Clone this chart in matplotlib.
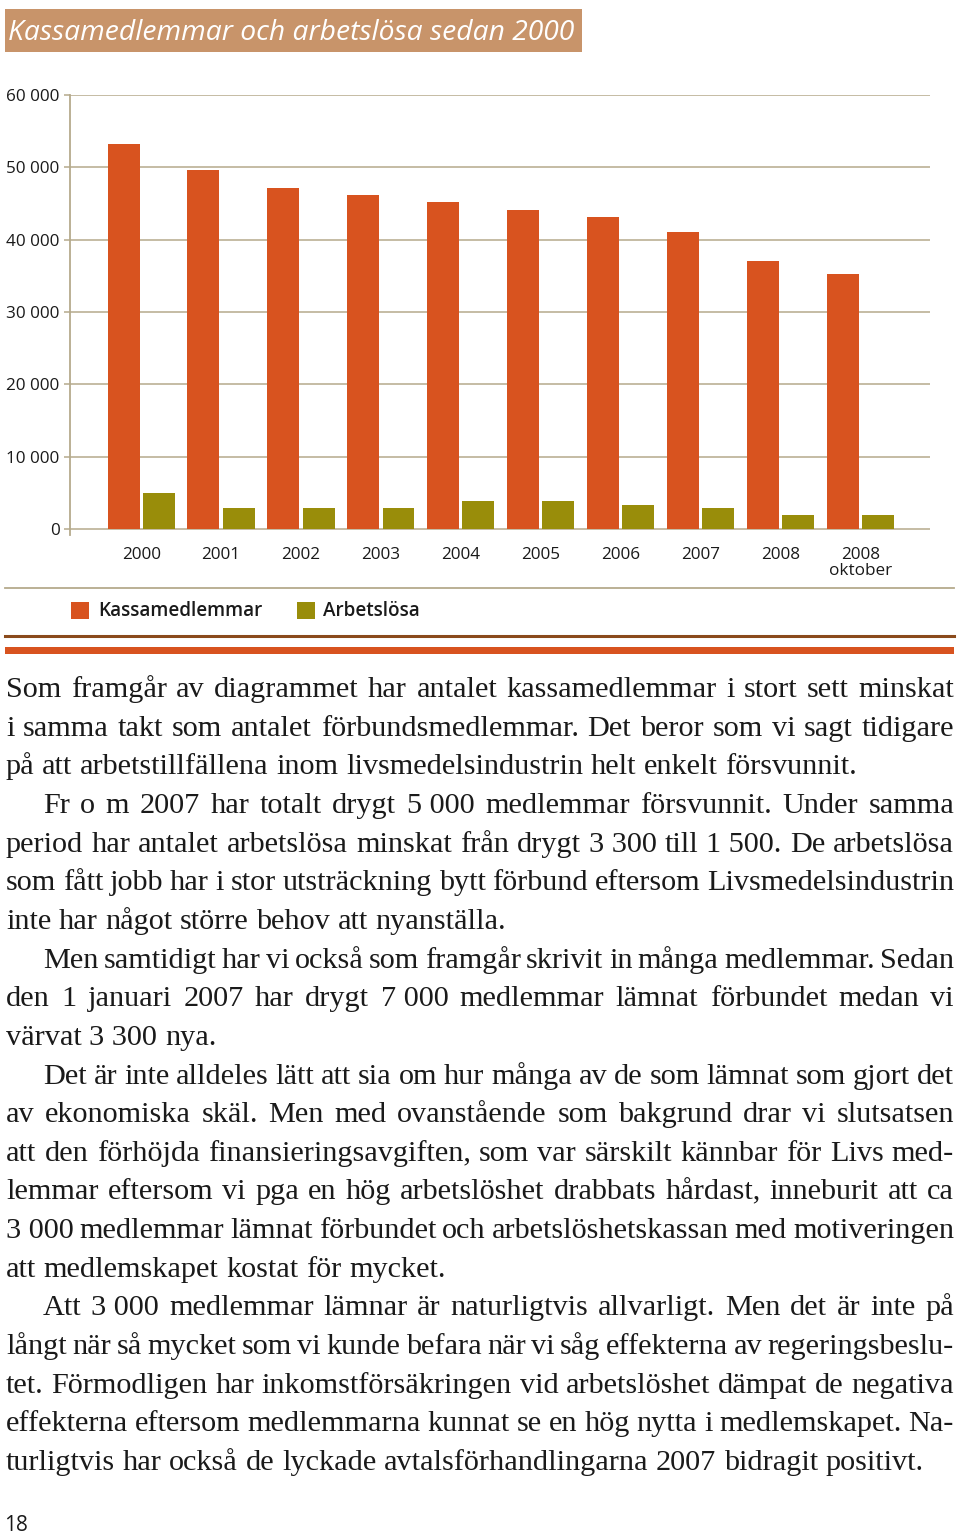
import matplotlib
matplotlib.use('Agg')
import matplotlib.pyplot as plt
from matplotlib.patches import Rectangle
from matplotlib.lines import Line2D
import numpy as np

W, H = 960, 1533

# data
years = ['2000', '2001', '2002', '2003', '2004', '2005', '2006', '2007', '2008', '2008\noktober']
kassamedlemmar = [53200, 49700, 47200, 46200, 45200, 44100, 43200, 41100, 37100, 35200]
arbetslosa = [5000, 2900, 2900, 2900, 3900, 3900, 3300, 2900, 1900, 1900]
yticks = [0, 10000, 20000, 30000, 40000, 50000, 60000]

title = 'Kassamedlemmar och arbetslösa sedan 2000'
legend_labels = ['Kassamedlemmar', 'Arbetslösa']

# body text, one entry per printed line: (text, indented, justified)
NB = '\u00a0'
body = [
    ('Som framgår av diagrammet har antalet kassamedlemmar i stort sett minskat', False, True),
    ('i samma takt som antalet förbundsmedlemmar. Det beror som vi sagt tidigare', False, True),
    ('på att arbetstillfällena inom livsmedelsindustrin helt enkelt försvunnit.', False, False),
    ('Fr o m 2007 har totalt drygt 5' + NB + '000 medlemmar försvunnit. Under samma', True, True),
    ('period har antalet arbetslösa minskat från drygt 3' + NB + '300 till 1' + NB + '500. De arbetslösa', False, True),
    ('som fått jobb har i stor utsträckning bytt förbund eftersom Livsmedelsindustrin', False, True),
    ('inte har något större behov att nyanställa.', False, False),
    ('Men samtidigt har vi också som framgår skrivit in många medlemmar. Sedan', True, True),
    ('den 1 januari 2007 har drygt 7' + NB + '000 medlemmar lämnat förbundet medan vi', False, True),
    ('värvat 3' + NB + '300 nya.', False, False),
    ('Det är inte alldeles lätt att sia om hur många av de som lämnat som gjort det', True, True),
    ('av ekonomiska skäl. Men med ovanstående som bakgrund drar vi slutsatsen', False, True),
    ('att den förhöjda finansieringsavgiften, som var särskilt kännbar för Livs med-', False, True),
    ('lemmar eftersom vi pga en hög arbetslöshet drabbats hårdast, inneburit att ca', False, True),
    ('3' + NB + '000 medlemmar lämnat förbundet och arbetslöshetskassan med motiveringen', False, True),
    ('att medlemskapet kostat för mycket.', False, False),
    ('Att 3' + NB + '000 medlemmar lämnar är naturligtvis allvarligt. Men det är inte på', True, True),
    ('långt när så mycket som vi kunde befara när vi såg effekterna av regeringsbeslu-', False, True),
    ('tet. Förmodligen har inkomstförsäkringen vid arbetslöshet dämpat de negativa', False, True),
    ('effekterna eftersom medlemmarna kunnat se en hög nytta i medlemskapet. Na-', False, True),
    ('turligtvis har också de lyckade avtalsförhandlingarna 2007 bidragit positivt.', False, False),
]
page_no = '18'

orange = '#d8531f'
olive = '#998d0a'
tan = '#b5aa8c'
titlebox = '#c8946a'
brown = '#8a4a1c'
sans = ['Open Sans', 'DejaVu Sans']
serif = ['Liberation Serif', 'DejaVu Serif']


def fx(x):
    return x / W


def fy(y):
    return 1 - y / H


fig = plt.figure(figsize=(W / 100, H / 100), dpi=100)

# ---- title box
fig.patches.append(Rectangle((fx(5), fy(52)), fx(577), 43 / H, transform=fig.transFigure,
                             facecolor=titlebox, edgecolor='none'))
fig.text(fx(8), fy(40), title, color='white', fontsize=20.3, style='italic',
         family=sans, va='baseline', ha='left')

# ---- chart
ax = fig.add_axes([fx(70), fy(535), fx(860), (535 - 95) / H])
x = np.arange(len(years))
ax.bar(x - 0.22, kassamedlemmar, width=0.40, color=orange, zorder=3)
ax.bar(x + 0.22, arbetslosa, width=0.40, color=olive, zorder=3)
ax.set_xlim(-0.89, 9.87)
ax.set_ylim(-60000 * 6 / 434, 60000)
ax.set_yticks(yticks)
ax.set_yticklabels([f'{v:,}'.replace(',', ' ') for v in yticks], family=sans, fontsize=12.3)
ax.set_xticks(x)
ax.set_xticklabels(years, family=sans, fontsize=12.3, linespacing=0.95)
ax.yaxis.grid(True, color=tan, lw=1.1, zorder=0)
ax.set_axisbelow(True)
for s in ['top', 'right', 'bottom']:
    ax.spines[s].set_visible(False)
ax.spines['left'].set_color(tan)
ax.spines['left'].set_linewidth(1.3)
ax.tick_params(axis='y', length=4, color=tan, width=1.1, pad=3.5, labelcolor='#1a1a1a')
ax.tick_params(axis='x', length=0, pad=9, labelcolor='#1a1a1a')

# ---- separators and legend
fig.add_artist(Line2D([fx(5), fx(954)], [fy(588), fy(588)], color=tan, lw=1.3))
fig.patches.append(Rectangle((fx(71), fy(619)), 18 / W, 17 / H, transform=fig.transFigure,
                             facecolor=orange, edgecolor='none'))
fig.text(fx(98), fy(611), legend_labels[0], family=sans, fontsize=13.6, weight='semibold',
         color='#1a1a1a', va='center')
fig.patches.append(Rectangle((fx(297), fy(619)), 18 / W, 17 / H, transform=fig.transFigure,
                             facecolor=olive, edgecolor='none'))
fig.text(fx(323), fy(611), legend_labels[1], family=sans, fontsize=13.6, weight='semibold',
         color='#1a1a1a', va='center')
fig.add_artist(Line2D([fx(5), fx(954)], [fy(636), fy(636)], color=brown, lw=2.2))
fig.patches.append(Rectangle((fx(5), fy(654)), fx(949), 7 / H, transform=fig.transFigure,
                             facecolor=orange, edgecolor='none'))

# ---- body text, justified by hand
renderer = fig.canvas.get_renderer()
left, right, indent = 6, 954, 43
y0, step = 697, 38.65
fsize = 21.8
space = fig.text(0, 0, 'a a', family=serif, fontsize=fsize)
sp = space.get_window_extent(renderer).width
space.set_text('aa')
sp -= space.get_window_extent(renderer).width
space.remove()
for i, (line, ind, just) in enumerate(body):
    yb = y0 + i * step
    x_start = indent if ind else left
    words = line.split(' ')
    txts = [fig.text(0, fy(yb), w.replace(NB, ' '), family=serif, fontsize=fsize,
                     color='#1a1a1a', va='baseline', ha='left') for w in words]
    widths = [t.get_window_extent(renderer).width for t in txts]
    if just and len(words) > 1:
        gap = (right - x_start - sum(widths)) / (len(words) - 1)
    else:
        gap = sp
    xx = x_start
    for t, w in zip(txts, widths):
        t.set_x(fx(xx))
        xx += w + gap

fig.text(fx(4), fy(1531), page_no, family=sans, fontsize=15, color='#1a1a1a',
         va='baseline', ha='left')

fig.savefig('out.png', dpi=100)
